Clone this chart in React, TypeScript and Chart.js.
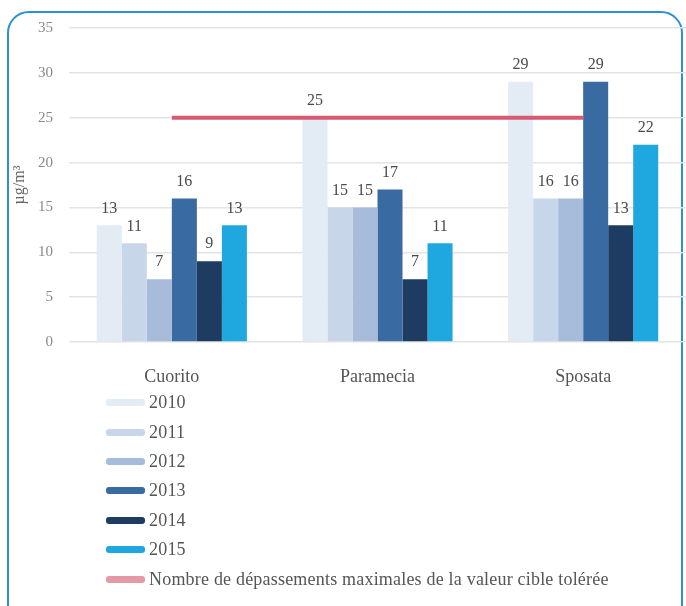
import React, { useEffect, useRef } from "react";
import { Chart, registerables } from "chart.js";

Chart.register(...registerables);

const categories = ["Cuorito", "Paramecia", "Sposata"];
const years = ["2010", "2011", "2012", "2013", "2014", "2015"];
const values2010 = [13, 25, 29];
const values2011 = [11, 15, 16];
const values2012 = [7, 15, 16];
const values2013 = [16, 17, 29];
const values2014 = [9, 7, 13];
const values2015 = [13, 11, 22];
const seriesValues = [values2010, values2011, values2012, values2013, values2014, values2015];
const seriesColors = ["#e3ebf5", "#c8d6e9", "#a6bcda", "#3a6aa2", "#1e3c62", "#1ea8df"];
const limitLabel = "Nombre de dépassements maximales de la valeur cible tolérée";
const limitValues = [25, 25, 25];
const limitColor = "#d75a70";
const yTicks = [0, 5, 10, 15, 20, 25, 30, 35];
const yTitle = "µg/m³";

const SERIF = "'Liberation Serif', 'DejaVu Serif', serif";

const valueLabels = {
  id: "valueLabels",
  afterDatasetsDraw(chart: any) {
    const ctx = chart.ctx;
    ctx.save();
    ctx.font = `16px ${SERIF}`;
    ctx.fillStyle = "#4a4a4a";
    ctx.textAlign = "center";
    ctx.textBaseline = "middle";
    chart.data.datasets.forEach((ds: any, i: number) => {
      if (ds.type === "line") return;
      const meta = chart.getDatasetMeta(i);
      meta.data.forEach((el: any, j: number) => {
        ctx.fillText(String(ds.data[j]), el.x, el.y - 17);
      });
    });
    ctx.restore();
  },
};

export default function App() {
  const ref = useRef<HTMLCanvasElement>(null);

  useEffect(() => {
    if (!ref.current) return;
    const datasets: any[] = years.map((y, i) => ({
      type: "bar",
      label: y,
      data: seriesValues[i],
      backgroundColor: seriesColors[i],
      borderWidth: 0,
      barPercentage: 1,
      categoryPercentage: 0.73,
      order: 1,
    }));
    datasets.push({
      type: "line",
      label: limitLabel,
      data: limitValues,
      borderColor: limitColor,
      borderWidth: 4,
      pointRadius: 0,
      fill: false,
      order: 0,
    });
    const chart = new Chart(ref.current, {
      type: "bar",
      data: { labels: categories, datasets },
      options: {
        animation: false,
        responsive: false,
        layout: { padding: { left: 10, top: 28, right: 0, bottom: 0 } },
        plugins: { legend: { display: false }, tooltip: { enabled: false } },
        scales: {
          x: {
            grid: { display: false, drawTicks: false },
            border: { display: false },
            ticks: { font: { family: SERIF, size: 18 }, color: "#555", padding: 24 },
            afterFit: (s: any) => {
              s.height = 48;
            },
          },
          y: {
            min: 0,
            max: 35,
            afterBuildTicks: (s: any) => {
              s.ticks = yTicks.map((v) => ({ value: v }));
            },
            grid: { color: "#e4e4e4", drawTicks: false, lineWidth: 1.5 },
            border: { display: false },
            ticks: { font: { family: SERIF, size: 15 }, color: "#8a8a8a", padding: 16 },
            title: {
              display: true,
              text: yTitle,
              font: { family: SERIF, size: 16 },
              color: "#666",
              padding: 0,
            },
            afterFit: (s: any) => {
              s.width = 59;
            },
          },
        },
      },
      plugins: [valueLabels],
    });
    return () => chart.destroy();
  }, []);

  const legendItems = [
    ...years.map((y, i) => ({ label: y, color: seriesColors[i] })),
    { label: limitLabel, color: "#e49aa6" },
  ];

  return (
    <div>
      <div
        style={{
          position: "fixed",
          left: 7,
          top: 11,
          width: 676,
          height: 640,
          border: "2px solid #2f8fd5",
          borderRadius: 22,
          boxSizing: "border-box",
          background: "#fff",
        }}
      />
      <canvas
        ref={ref}
        width={686}
        height={390}
        style={{ position: "fixed", left: 0, top: 0, width: 686, height: 390 }}
      />
      <div style={{ position: "fixed", left: 106, top: 388, fontFamily: SERIF }}>
        {legendItems.map((it, i) => (
          <div
            key={i}
            style={{ display: "flex", alignItems: "center", height: 29.4, whiteSpace: "nowrap" }}
          >
            <span
              style={{
                display: "inline-block",
                width: 39,
                height: 7,
                borderRadius: 3,
                background: it.color,
                marginRight: 4,
              }}
            />
            <span style={{ fontSize: 18, letterSpacing: 0.2, color: "#555" }}>{it.label}</span>
          </div>
        ))}
      </div>
    </div>
  );
}
